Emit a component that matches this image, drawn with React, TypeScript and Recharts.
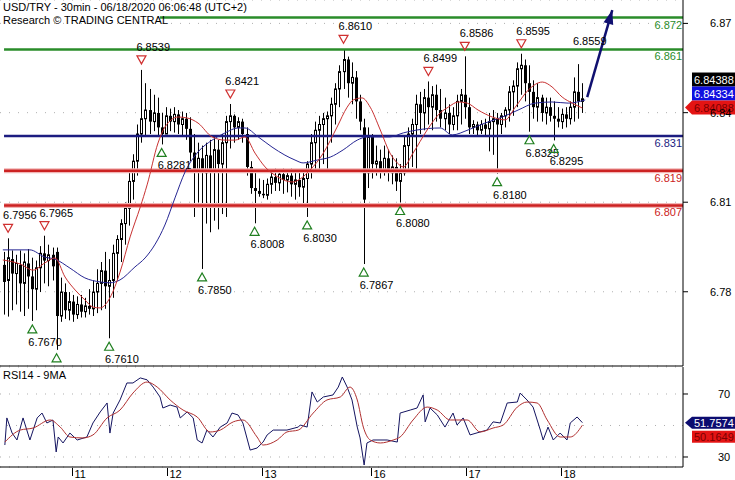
import React from 'react';
import {
  ComposedChart,
  Bar,
  Line,
  XAxis,
  YAxis,
  CartesianGrid,
  ReferenceLine,
  ReferenceDot,
} from 'recharts';

const FONT = "'Liberation Sans', Arial, sans-serif";

// hourly bar index axis (1 = first bar on the left)
const X_MAX = 169;
const dayTicks = [17.8, 41.3, 64.9, 91.8, 115.3, 138.9];
const dayLabels = ['11', '12', '13', '16', '17', '18'];

const PRICE_MIN = 6.7514;
const PRICE_MAX = 6.8781;
const priceTicks = [6.7771, 6.8081, 6.8391, 6.87];

const RSI_MIN = 23.65;
const RSI_MAX = 87.14;
const rsiTicks = [30, 70];

// OHLC, bars 1..144
const high = [
  6.7909, 6.7956, 6.7914, 6.7899, 6.7914, 6.7904, 6.7919, 6.7889, 6.7879, 6.7929,
  6.7965, 6.7934, 6.7924, 6.7924, 6.7820, 6.7800, 6.7770, 6.7760, 6.7755, 6.7760,
  6.7750, 6.7780, 6.7810, 6.7849, 6.7874, 6.7909, 6.7884, 6.7934, 6.7967, 6.8022,
  6.8080, 6.8183, 6.8247, 6.8350, 6.8539, 6.8493, 6.8473, 6.8453, 6.8443, 6.8390,
  6.8410, 6.8405, 6.8410, 6.8400, 6.8395, 6.8390, 6.8375, 6.8317, 6.8287, 6.8277,
  6.8287, 6.8297, 6.8307, 6.8297, 6.8317, 6.8380, 6.8421, 6.8385, 6.8375, 6.8370,
  6.8340, 6.8223, 6.8183, 6.8163, 6.8158, 6.8163, 6.8193, 6.8198, 6.8193, 6.8198,
  6.8188, 6.8198, 6.8183, 6.8193, 6.8183, 6.8223, 6.8317, 6.8360, 6.8380, 6.8390,
  6.8395, 6.8443, 6.8493, 6.8555, 6.8610, 6.8585, 6.8565, 6.8535, 6.8453, 6.8370,
  6.8340, 6.8317, 6.8277, 6.8263, 6.8277, 6.8263, 6.8243, 6.8233, 6.8213, 6.8307,
  6.8340, 6.8370, 6.8453, 6.8463, 6.8473, 6.8499, 6.8483, 6.8488, 6.8473, 6.8443,
  6.8420, 6.8410, 6.8453, 6.8473, 6.8586, 6.8443, 6.8365, 6.8360, 6.8365, 6.8370,
  6.8390, 6.8400, 6.8390, 6.8390, 6.8410, 6.8483, 6.8503, 6.8565, 6.8595, 6.8575,
  6.8555, 6.8503, 6.8493, 6.8453, 6.8443, 6.8443, 6.8430, 6.8410, 6.8405, 6.8410,
  6.8430, 6.8513, 6.8559, 6.8493,
];
const low = [
  6.7692, 6.7685, 6.7707, 6.7727, 6.7702, 6.7687, 6.7712, 6.7670, 6.7707, 6.7770,
  6.7800, 6.7790, 6.7810, 6.7570, 6.7667, 6.7677, 6.7672, 6.7667, 6.7677, 6.7682,
  6.7682, 6.7692, 6.7687, 6.7697, 6.7707, 6.7712, 6.7610, 6.7750, 6.7810, 6.7874,
  6.7934, 6.8000, 6.8090, 6.8173, 6.8287, 6.8307, 6.8317, 6.8327, 6.8307, 6.8281,
  6.8317, 6.8327, 6.8322, 6.8317, 6.8307, 6.8297, 6.8223, 6.8030, 6.8080, 6.7850,
  6.8007, 6.7977, 6.8017, 6.7987, 6.8040, 6.8030, 6.8267, 6.8287, 6.8297, 6.8287,
  6.8173, 6.8110, 6.8008, 6.8100, 6.8095, 6.8090, 6.8110, 6.8120, 6.8120, 6.8110,
  6.8115, 6.8100, 6.8090, 6.8100, 6.8070, 6.8030, 6.8163, 6.8183, 6.8193, 6.8213,
  6.8193, 6.8287, 6.8350, 6.8410, 6.8473, 6.8443, 6.8420, 6.8370, 6.8330, 6.7867,
  6.8130, 6.8163, 6.8173, 6.8163, 6.8173, 6.8153, 6.8143, 6.8120, 6.8080, 6.8173,
  6.8193, 6.8203, 6.8193, 6.8317, 6.8330, 6.8350, 6.8330, 6.8360, 6.8340, 6.8330,
  6.8317, 6.8330, 6.8330, 6.8350, 6.8370, 6.8317, 6.8317, 6.8312, 6.8317, 6.8307,
  6.8257, 6.8245, 6.8180, 6.8317, 6.8340, 6.8360, 6.8380, 6.8410, 6.8453, 6.8430,
  6.8325, 6.8370, 6.8360, 6.8360, 6.8350, 6.8360, 6.8295, 6.8340, 6.8335, 6.8340,
  6.8350, 6.8360, 6.8370, 6.8390,
];
const open = [
  6.7864, 6.7810, 6.7884, 6.7834, 6.7864, 6.7800, 6.7869, 6.7824, 6.7780, 6.7854,
  6.7904, 6.7879, 6.7899, 6.7909, 6.7687, 6.7770, 6.7707, 6.7737, 6.7692, 6.7727,
  6.7702, 6.7722, 6.7712, 6.7770, 6.7800, 6.7844, 6.7790, 6.7810, 6.7904, 6.7952,
  6.8007, 6.8060, 6.8153, 6.8223, 6.8317, 6.8370, 6.8400, 6.8360, 6.8390, 6.8340,
  6.8317, 6.8380, 6.8360, 6.8385, 6.8350, 6.8370, 6.8335, 6.8253, 6.8193, 6.8233,
  6.8183, 6.8243, 6.8193, 6.8263, 6.8213, 6.8287, 6.8360, 6.8380, 6.8340, 6.8360,
  6.8317, 6.8203, 6.8130, 6.8120, 6.8110, 6.8105, 6.8143, 6.8168, 6.8148, 6.8178,
  6.8158, 6.8173, 6.8143, 6.8158, 6.8133, 6.8163, 6.8213, 6.8287, 6.8330, 6.8350,
  6.8370, 6.8380, 6.8420, 6.8473, 6.8533, 6.8575, 6.8493, 6.8513, 6.8430, 6.8340,
  6.8183, 6.8307, 6.8213, 6.8223, 6.8193, 6.8233, 6.8183, 6.8203, 6.8153, 6.8183,
  6.8277, 6.8317, 6.8350, 6.8420, 6.8390, 6.8443, 6.8410, 6.8453, 6.8400, 6.8370,
  6.8390, 6.8350, 6.8380, 6.8430, 6.8453, 6.8410, 6.8340, 6.8350, 6.8330, 6.8350,
  6.8335, 6.8360, 6.8370, 6.8350, 6.8380, 6.8400, 6.8463, 6.8483, 6.8543, 6.8555,
  6.8493, 6.8463, 6.8410, 6.8443, 6.8390, 6.8410, 6.8380, 6.8370, 6.8360, 6.8385,
  6.8370, 6.8410, 6.8463, 6.8430,
];
const close = [
  6.7805, 6.7889, 6.7834, 6.7869, 6.7800, 6.7874, 6.7824, 6.7780, 6.7854, 6.7904,
  6.7879, 6.7899, 6.7859, 6.7687, 6.7770, 6.7707, 6.7737, 6.7692, 6.7727, 6.7702,
  6.7722, 6.7712, 6.7770, 6.7800, 6.7844, 6.7790, 6.7810, 6.7904, 6.7952, 6.8007,
  6.8060, 6.8153, 6.8223, 6.8317, 6.8370, 6.8400, 6.8360, 6.8390, 6.8340, 6.8317,
  6.8380, 6.8360, 6.8385, 6.8350, 6.8370, 6.8335, 6.8253, 6.8193, 6.8233, 6.8183,
  6.8243, 6.8193, 6.8263, 6.8213, 6.8287, 6.8360, 6.8380, 6.8340, 6.8360, 6.8317,
  6.8203, 6.8130, 6.8120, 6.8110, 6.8105, 6.8143, 6.8168, 6.8148, 6.8178, 6.8158,
  6.8173, 6.8143, 6.8158, 6.8133, 6.8163, 6.8213, 6.8287, 6.8330, 6.8350, 6.8370,
  6.8380, 6.8420, 6.8473, 6.8533, 6.8575, 6.8493, 6.8513, 6.8430, 6.8360, 6.8090,
  6.8307, 6.8213, 6.8223, 6.8193, 6.8233, 6.8183, 6.8203, 6.8153, 6.8183, 6.8277,
  6.8317, 6.8350, 6.8420, 6.8390, 6.8443, 6.8410, 6.8453, 6.8400, 6.8370, 6.8390,
  6.8350, 6.8380, 6.8430, 6.8453, 6.8410, 6.8340, 6.8350, 6.8330, 6.8350, 6.8335,
  6.8360, 6.8370, 6.8350, 6.8380, 6.8400, 6.8463, 6.8483, 6.8543, 6.8555, 6.8493,
  6.8463, 6.8410, 6.8443, 6.8390, 6.8410, 6.8380, 6.8370, 6.8360, 6.8385, 6.8370,
  6.8410, 6.8463, 6.8430, 6.8439,
];

// moving averages on price
const redMaT = [0.7, 5, 8.2, 11.1, 13.6, 16.1, 18.6, 21, 23, 24.8, 27.2, 29.7, 32.2, 34.7, 36.4, 39.1, 40.8, 44.1, 46.5, 49, 52.5, 55.7, 58.2, 60.6, 63.1, 65.6, 68.8, 72.3, 76.7, 80, 83.4, 85.9, 87.4, 89.6, 91.6, 94.1, 96.5, 98.3, 99.8, 102.2, 105.7, 108.9, 110.9, 113.4, 115.6, 118.3, 121.8, 125, 127.5, 130.7, 134.2, 136.6, 139.1, 141.6, 144.1];
const redMaV = [6.7881, 6.7867, 6.7846, 6.7871, 6.7888, 6.7822, 6.7777, 6.7743, 6.7718, 6.7715, 6.7750, 6.7839, 6.7961, 6.8064, 6.8141, 6.8286, 6.8341, 6.8376, 6.8372, 6.8355, 6.8307, 6.8296, 6.8296, 6.8307, 6.8251, 6.8203, 6.8168, 6.8151, 6.8192, 6.8251, 6.8341, 6.8410, 6.8435, 6.8442, 6.8410, 6.8331, 6.8251, 6.8217, 6.8203, 6.8251, 6.8331, 6.8390, 6.8410, 6.8428, 6.8424, 6.8400, 6.8376, 6.8366, 6.8410, 6.8469, 6.8497, 6.8480, 6.8445, 6.8424, 6.8407];
const navyMaT = [0.7, 7.4, 11.1, 13.6, 17.3, 21, 24.8, 27.2, 29.7, 33.4, 35.9, 38.4, 40.8, 43.3, 45.8, 49, 52.5, 55.7, 58.9, 60.6, 63.9, 67.3, 70.5, 73, 75, 78.5, 81.7, 84.9, 88.4, 90.8, 96.5, 99.8, 103.2, 108.9, 111.9, 115.8, 120, 124.3, 128.2, 132.4, 136.6, 140.6, 144.8];
const navyMaV = [6.7916, 6.7916, 6.7891, 6.7884, 6.7853, 6.7819, 6.7805, 6.7802, 6.7812, 6.7857, 6.7888, 6.7936, 6.8002, 6.8096, 6.8186, 6.8255, 6.8296, 6.8321, 6.8338, 6.8338, 6.8307, 6.8272, 6.8244, 6.8227, 6.8217, 6.8227, 6.8237, 6.8262, 6.8296, 6.8307, 6.8307, 6.8321, 6.8331, 6.8338, 6.8314, 6.8331, 6.8355, 6.8376, 6.8400, 6.8424, 6.8428, 6.8424, 6.8435];

// support / resistance levels
const levelValues = [6.872, 6.861, 6.831, 6.819, 6.807];
const levelLabels = ['6.872', '6.861', '6.831', '6.819', '6.807'];
const levelStart = [39.6, 1, 1, 1, 1];
const levelColors = ['#2a8c2a', '#2a8c2a', '#1c1c80', '#cc2222', '#cc2222'];

// swing markers
const peakBars = [2, 11, 35, 57, 85, 106, 115, 129, 143];
const peakLabels = ['6.7956', '6.7965', '6.8539', '6.8421', '6.8610', '6.8499', '6.8586', '6.8595', '6.8559'];
const peakTri = [true, true, true, true, true, true, true, true, false];
const troughBars = [8, 14, 27, 40, 50, 63, 76, 90, 99, 123, 131, 137];
const troughLabels = ['6.7670', '', '6.7610', '6.8281', '6.7850', '6.8008', '6.8030', '6.7867', '6.8080', '6.8180', '6.8325', '6.8295'];

// projection arrow
const arrowT = [145.3, 151.5];
const arrowV = [6.8445, 6.8746];

// last values: close, long MA, short MA
const lastPrice = [6.84388, 6.84334, 6.84088];

// RSI 14 and its 9 MA
const rsiT = [1.2, 1.7, 3, 4.2, 5.7, 7.4, 9.2, 10.4, 11.6, 13.1, 13.9, 14.4, 15.6, 17.3, 19.1, 21.5, 23, 24.8, 26.5, 27.2, 28, 29.7, 31.4, 32.9, 34.7, 36.4, 37.9, 39.6, 40.3, 42.1, 43.8, 44.6, 46.3, 47.8, 48.8, 50, 51.2, 52.7, 54.5, 56.2, 57.4, 58.9, 60.1, 61.9, 63.6, 65.1, 66.1, 67.6, 71, 73.8, 74.3, 76, 77.2, 78.5, 80, 82.4, 83.7, 84.7, 85.9, 87.1, 88.4, 89.1, 90.1, 90.8, 92.3, 95.8, 98.3, 99, 101.5, 103.2, 104.7, 105.2, 106.4, 108.2, 110.1, 112.1, 113.1, 114.6, 116.3, 118.8, 120.5, 122, 123.8, 125.5, 128, 128.7, 130.4, 131.9, 133.7, 134.4, 135.6, 136.9, 138.6, 140.3, 141.1, 142.8, 144.1];
const rsiV = [37.6, 54.8, 45.2, 40.8, 54.8, 40.8, 54.8, 57.9, 51.6, 53.5, 33.2, 42.7, 38.9, 45.2, 40.8, 42.7, 51.6, 58.6, 64.3, 45.2, 57.9, 66.2, 77, 77, 80.2, 79, 74.4, 68.1, 61.1, 63, 61.7, 54.8, 58.6, 54.8, 40.8, 38.9, 47.1, 42.7, 49, 51.6, 57.9, 56.7, 51.6, 34.4, 35.7, 39.5, 44, 47.1, 47.1, 49, 50.3, 49, 71.3, 64.9, 68.1, 69.4, 74.4, 80.8, 74.4, 66.2, 49, 42.1, 24.9, 38.9, 40.8, 40.8, 39.5, 57.9, 59.8, 61.1, 69.4, 52.3, 61.1, 56.7, 49, 57.9, 50.3, 54.8, 44, 45.9, 47.1, 52.3, 51.6, 64.3, 64.9, 70.6, 66.2, 61.7, 47.1, 40.8, 49, 40.8, 45.2, 40.8, 51.6, 55.4, 51.8];
const rsiMaT = [1.2, 5, 8.2, 12.4, 14.9, 17.3, 20.5, 23, 26.5, 29.7, 32.9, 36.4, 38.9, 42.1, 45.3, 48.8, 52, 54.5, 57.7, 60.1, 63.6, 65.1, 68.6, 71, 73.8, 77.5, 80.9, 84.2, 86.6, 88.4, 89.9, 91.6, 94.1, 97.3, 99, 102.2, 105.7, 108.2, 111.4, 115.6, 118.8, 122, 124.5, 128, 130.4, 132.9, 135.4, 138.6, 141.1, 144.1];
const rsiMaV = [39.5, 47.1, 48.4, 53.5, 49, 42.7, 42.1, 44, 54.8, 59.8, 70.6, 77.6, 74.4, 66.2, 59.8, 55.4, 45.9, 47.1, 52.3, 53.5, 42.7, 37.6, 40.8, 45.9, 47.1, 57.9, 66.2, 68.1, 74.4, 66.2, 49, 40.8, 38.9, 40.8, 42.7, 53.5, 61.7, 59.8, 53.5, 53.5, 45.9, 48.4, 50.3, 61.7, 64.9, 64.3, 53.5, 42.7, 42.7, 50.2];
const lastRsi = [51.7574, 50.1649];

const bars = high.map((h, i) => ({ t: i + 1, high: h, low: low[i], open: open[i], close: close[i] }));
const redMa = redMaT.map((t, i) => ({ t, v: redMaV[i] }));
const navyMa = navyMaT.map((t, i) => ({ t, v: navyMaV[i] }));
const arrow = arrowT.map((t, i) => ({ t, v: arrowV[i] }));
const rsi = rsiT.map((t, i) => ({ t, v: rsiV[i] }));
const rsiMa = rsiMaT.map((t, i) => ({ t, v: rsiMaV[i] }));

const Candle = (props: any) => {
  const { x, y, width, height, payload } = props;
  if (x == null || y == null || !payload) return <g />;
  const cx = Math.round(x + width / 2) + 0.5;
  const top = Math.min(y, y + height);
  const h = Math.abs(height);
  const span = payload.high - payload.low || 1;
  const py = (v: number) => top + ((payload.high - v) / span) * h;
  const yo = py(payload.open);
  const yc = py(payload.close);
  const bt = Math.min(yo, yc);
  const bh = Math.max(1, Math.abs(yc - yo));
  const down = payload.close < payload.open;
  return (
    <g>
      <line x1={cx} x2={cx} y1={top} y2={top + h} stroke="#000" strokeWidth={1} />
      {down ? (
        <rect x={cx - 1.5} y={bt} width={3} height={bh} fill="#000" />
      ) : (
        <rect x={cx - 1} y={bt} width={2} height={bh} fill="#fff" stroke="#000" strokeWidth={1} />
      )}
    </g>
  );
};

const PeakMark = ({ cx, cy, text, tri }: any) => {
  const ty = cy - 10;
  return (
    <g>
      {tri && (
        <polygon
          points={`${cx - 4.5},${ty - 4} ${cx + 4.5},${ty - 4} ${cx},${ty + 4}`}
          fill="none"
          stroke="#d03030"
          strokeWidth={1.2}
        />
      )}
      <text x={cx - 5} y={cy - 19} fontSize={11} fontFamily={FONT} fill="#000">{text}</text>
    </g>
  );
};

const TroughMark = ({ cx, cy, text }: any) => {
  const ty = cy + 8;
  return (
    <g>
      <polygon
        points={`${cx - 4.5},${ty + 4} ${cx + 4.5},${ty + 4} ${cx},${ty - 4}`}
        fill="none"
        stroke="#1f7f1f"
        strokeWidth={1.2}
      />
      <text x={cx - 4} y={cy + 25} fontSize={11} fontFamily={FONT} fill="#000">{text}</text>
    </g>
  );
};

const LevelLabel = ({ cx, cy, text, color }: any) => (
  <text x={cx - 1} y={cy + 11} textAnchor="end" fontSize={11} fontFamily={FONT} fill={color}>{text}</text>
);

const PriceTags = ({ cx, cy }: any) => (
  <g fontSize={11} fontFamily={FONT}>
    <rect x={cx + 9} y={cy - 35} width={43} height={14} fill="#000" />
    <text x={cx + 11} y={cy - 24} fill="#fff">{lastPrice[0].toFixed(5)}</text>
    <rect x={cx + 9} y={cy - 21} width={43} height={14} fill="#1010e0" />
    <text x={cx + 11} y={cy - 10} fill="#fff">{lastPrice[1].toFixed(5)}</text>
    <polygon points={`${cx + 2},${cy} ${cx + 9},${cy - 7} ${cx + 52},${cy - 7} ${cx + 52},${cy + 7} ${cx + 9},${cy + 7}`} fill="#e41414" />
    <text x={cx + 11} y={cy + 4} fill="#7a0000">{lastPrice[2].toFixed(5)}</text>
  </g>
);

const RsiTags = ({ cx, cy }: any) => (
  <g fontSize={11} fontFamily={FONT}>
    <polygon points={`${cx + 2},${cy} ${cx + 9},${cy - 6} ${cx + 52},${cy - 6} ${cx + 52},${cy + 6} ${cx + 9},${cy + 6}`} fill="#0c0c70" />
    <text x={cx + 11} y={cy + 4} fill="#fff">{lastRsi[0].toFixed(4)}</text>
    <rect x={cx + 9} y={cy + 8} width={43} height={12} fill="#e41414" />
    <text x={cx + 11} y={cy + 18} fill="#7a0000">{lastRsi[1].toFixed(4)}</text>
  </g>
);

const ArrowHead = (p: any) => {
  if (p.index !== arrowT.length - 1) return <g key={p.key} />;
  let ux = 0.28;
  let uy = -0.96;
  const pts = p.points;
  if (pts && pts.length > 1) {
    const a = pts[pts.length - 2];
    const dx = p.cx - a.x;
    const dy = p.cy - a.y;
    const len = Math.hypot(dx, dy) || 1;
    ux = dx / len;
    uy = dy / len;
  }
  const bx = p.cx - ux * 14;
  const by = p.cy - uy * 14;
  const nx = -uy;
  const ny = ux;
  return (
    <polygon
      key={p.key}
      points={`${p.cx},${p.cy} ${bx + nx * 5},${by + ny * 5} ${bx - nx * 5},${by - ny * 5}`}
      fill="#101070"
    />
  );
};

const DayTick = ({ x, y, payload }: any) => {
  const i = dayTicks.indexOf(payload.value);
  const lx = Math.round(x) + 0.5;
  return (
    <g>
      <line x1={lx} x2={lx} y1={y + 1} y2={y + 9} stroke="#000" />
      <text x={lx + 2} y={y + 11} fontSize={11} fontFamily={FONT} fill="#000">{dayLabels[i]}</text>
    </g>
  );
};

const textStyle: React.CSSProperties = {
  position: 'absolute',
  left: 3,
  fontFamily: FONT,
  fontSize: 11,
  lineHeight: '12px',
  color: '#000',
  whiteSpace: 'nowrap',
};

export default function App() {
  return (
    <div style={{ position: 'absolute', left: 0, top: 0, width: 735, height: 480, background: '#fff', overflow: 'hidden' }}>
      <ComposedChart width={735} height={367} data={bars} margin={{ top: 0, right: 0, bottom: 0, left: 0 }}>
        <CartesianGrid vertical={false} stroke="#b0b0b0" strokeDasharray="1 8" />
        <XAxis
          dataKey="t"
          type="number"
          domain={[0, X_MAX]}
          ticks={dayTicks}
          height={1}
          tick={false}
          tickLine={false}
          axisLine={{ stroke: '#000' }}
          allowDataOverflow
        />
        <YAxis
          orientation="right"
          type="number"
          domain={[PRICE_MIN, PRICE_MAX]}
          ticks={priceTicks}
          width={52}
          allowDataOverflow
          tickFormatter={(v: number) => v.toFixed(2)}
          tickSize={5}
          tickMargin={22}
          axisLine={{ stroke: '#000' }}
          tickLine={{ stroke: '#000' }}
          tick={{ fontSize: 11, fill: '#000', fontFamily: FONT }}
        />
        {levelValues.map((v, k) =>
          levelColors[k] === '#cc2222' ? (
            <ReferenceLine
              key={'lh' + k}
              segment={[{ x: levelStart[k], y: v }, { x: X_MAX, y: v }]}
              stroke="#f2b4b4"
              strokeWidth={5}
            />
          ) : null
        )}
        {levelValues.map((v, k) => (
          <ReferenceLine
            key={'l' + k}
            segment={[{ x: levelStart[k], y: v }, { x: X_MAX, y: v }]}
            stroke={levelColors[k]}
            strokeWidth={2.5}
          />
        ))}
        <Bar
          dataKey={(d: any) => [d.low, d.high]}
          barSize={3}
          shape={(p: any) => <Candle {...p} />}
          isAnimationActive={false}
        />
        <Line data={navyMa} dataKey="v" type="monotone" stroke="#262693" strokeWidth={1} dot={false} isAnimationActive={false} />
        <Line data={redMa} dataKey="v" type="monotone" stroke="#c83232" strokeWidth={1} dot={false} isAnimationActive={false} />
        <Line data={arrow} dataKey="v" type="linear" stroke="#101070" strokeWidth={2.5} dot={ArrowHead} isAnimationActive={false} />
        {levelValues.map((v, k) => (
          <ReferenceDot
            key={'ll' + k}
            x={X_MAX}
            y={v}
            shape={(p: any) => <LevelLabel {...p} text={levelLabels[k]} color={levelColors[k]} />}
          />
        ))}
        {peakBars.map((b, k) => (
          <ReferenceDot
            key={'pk' + k}
            x={b}
            y={high[b - 1]}
            shape={(p: any) => <PeakMark {...p} text={peakLabels[k]} tri={peakTri[k]} />}
          />
        ))}
        {troughBars.map((b, k) => (
          <ReferenceDot
            key={'tr' + k}
            x={b}
            y={low[b - 1]}
            shape={(p: any) => <TroughMark {...p} text={troughLabels[k]} />}
          />
        ))}
        <ReferenceDot x={X_MAX} y={lastPrice[2]} shape={(p: any) => <PriceTags {...p} />} />
      </ComposedChart>

      <ComposedChart width={735} height={113} data={rsi} margin={{ top: 0, right: 0, bottom: 0, left: 0 }}>
        <CartesianGrid vertical={false} stroke="#b0b0b0" strokeDasharray="1 8" />
        <ReferenceLine y={50} stroke="#b0b0b0" strokeDasharray="1 8" />
        <XAxis
          dataKey="t"
          type="number"
          domain={[0, X_MAX]}
          ticks={dayTicks}
          height={13}
          tickSize={0}
          tickMargin={0}
          tickLine={false}
          axisLine={{ stroke: '#000' }}
          tick={(p: any) => <DayTick {...p} />}
          allowDataOverflow
        />
        <YAxis
          orientation="right"
          type="number"
          domain={[RSI_MIN, RSI_MAX]}
          ticks={rsiTicks}
          width={52}
          allowDataOverflow
          tickSize={5}
          tickMargin={30}
          axisLine={{ stroke: '#000' }}
          tickLine={{ stroke: '#000' }}
          tick={{ fontSize: 11, fill: '#000', fontFamily: FONT }}
        />
        <Line dataKey="v" type="linear" stroke="#141460" strokeWidth={1} dot={false} isAnimationActive={false} />
        <Line data={rsiMa} dataKey="v" type="monotone" stroke="#b03030" strokeWidth={1} dot={false} isAnimationActive={false} />
        <ReferenceDot x={X_MAX} y={lastRsi[0]} shape={(p: any) => <RsiTags {...p} />} />
      </ComposedChart>

      <div style={{ ...textStyle, top: 1 }}>USD/TRY - 30min - 06/18/2020 06:06:48 (UTC+2)</div>
      <div style={{ ...textStyle, top: 14 }}>Research © TRADING CENTRAL</div>
      <div style={{ ...textStyle, top: 369 }}>RSI14 - 9MA</div>
    </div>
  );
}
